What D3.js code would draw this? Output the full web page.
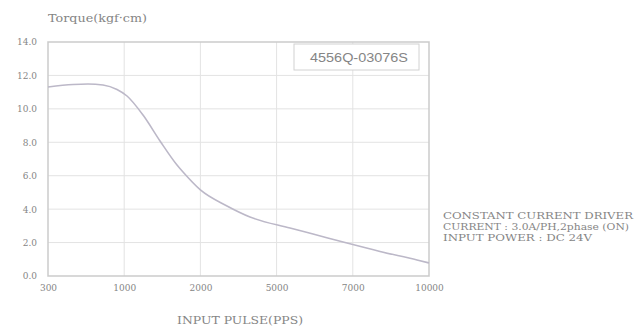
<!DOCTYPE html>
<html>
<head>
<meta charset="utf-8">
<script src="https://cdn.jsdelivr.net/npm/d3@7"></script>
<style>
  html, body { margin: 0; padding: 0; background: #fff; }
  svg { display: block; }
  text { font-family: "DejaVu Serif", "Liberation Serif", serif; fill: #858585; }
</style>
</head>
<body>
<svg id="chart" width="640" height="330"></svg>
<script>
// Pull-out torque curve of the stepper motor
const pulseTicks = [300, 1000, 2000, 5000, 7000, 10000];
const torqueTicks = [0, 2, 4, 6, 8, 10, 12, 14];
const pulse  = [300, 530, 667, 805, 934, 1037, 1247, 1470, 1693, 1772, 2000, 3047, 3953, 5352, 5956, 6848, 8071, 9529, 10000];
const torque = [11.31, 11.46, 11.49, 11.43, 11.16, 10.77, 9.63, 8.08, 6.64, 6.22, 5.15, 4.19, 3.53, 2.87, 2.51, 1.97, 1.47, 0.96, 0.78];
const modelName = "4556Q-03076S";
const notes = ["CONSTANT CURRENT DRIVER", "CURRENT : 3.0A/PH,2phase (ON)", "INPUT POWER : DC 24V"];

const svg = d3.select("#chart");
const m = { left: 48, right: 429, top: 42, bottom: 276 };

// Pulse ticks are spaced evenly, so the x scale is piecewise linear between them
const x = d3.scaleLinear()
  .domain(pulseTicks)
  .range(pulseTicks.map((d, i) => m.left + i * (m.right - m.left) / (pulseTicks.length - 1)));
const y = d3.scaleLinear().domain([0, 14]).range([m.bottom, m.top]);

// grid
const grid = svg.append("g");
grid.selectAll("line.h").data(torqueTicks.filter(d => d > 0 && d < 14)).join("line")
  .attr("x1", m.left).attr("x2", m.right)
  .attr("y1", d => y(d)).attr("y2", d => y(d))
  .attr("stroke", "#e3e3e3").attr("stroke-width", 1);
grid.selectAll("line.v").data(pulseTicks.slice(1, -1)).join("line")
  .attr("x1", d => x(d)).attr("x2", d => x(d))
  .attr("y1", m.top).attr("y2", m.bottom)
  .attr("stroke", "#e3e3e3").attr("stroke-width", 1);

// frame
svg.append("rect")
  .attr("x", m.left).attr("y", m.top)
  .attr("width", m.right - m.left).attr("height", m.bottom - m.top)
  .attr("fill", "none").attr("stroke", "#cbcbcb").attr("stroke-width", 1.5);

// y axis labels
const yAxis = d3.axisLeft(y).tickValues(torqueTicks).tickFormat(d3.format(".1f")).tickSize(0).tickPadding(11);
svg.append("g").attr("transform", `translate(${m.left},0)`).call(yAxis)
  .call(g => g.select(".domain").remove())
  .call(g => g.selectAll("text").style("font-family", "DejaVu Serif").style("font-size", "9px").attr("fill", "#858585"));

// x axis labels
const xAxis = d3.axisBottom(x).tickValues(pulseTicks).tickFormat(d => d).tickSize(0).tickPadding(9);
svg.append("g").attr("transform", `translate(0,${m.bottom})`).call(xAxis)
  .call(g => g.select(".domain").remove())
  .call(g => g.selectAll("text").style("font-family", "DejaVu Serif").style("font-size", "9px").attr("fill", "#858585"));

// torque curve
const line = d3.line().x((d, i) => x(pulse[i])).y(d => y(d)).curve(d3.curveMonotoneX);
svg.append("path").datum(torque)
  .attr("d", line)
  .attr("fill", "none").attr("stroke", "#bcb8c8").attr("stroke-width", 1.6);

// titles
svg.append("text").attr("x", 48).attr("y", 22).attr("font-size", 11)
  .attr("textLength", 99).attr("lengthAdjust", "spacingAndGlyphs").text("Torque(kgf·cm)");
svg.append("text").attr("x", 177).attr("y", 324).attr("font-size", 10.5)
  .attr("textLength", 126).attr("lengthAdjust", "spacingAndGlyphs").text("INPUT PULSE(PPS)");

// model box
svg.append("rect").attr("x", 294).attr("y", 44).attr("width", 125).attr("height", 26)
  .attr("fill", "#fff").attr("stroke", "#d2d2d2").attr("stroke-width", 1);
svg.append("text").attr("x", 310).attr("y", 62)
  .style("font-family", "Liberation Sans, Arial, sans-serif").attr("font-size", 13).attr("fill", "#7d7d7d")
  .attr("textLength", 98).attr("lengthAdjust", "spacingAndGlyphs")
  .text(modelName);

// driver notes
const noteWidths = [190, 186, 149];
svg.append("g").selectAll("text").data(notes).join("text")
  .attr("x", 443).attr("y", (d, i) => 219 + i * 11)
  .attr("font-size", 9.5).attr("fill", "#757575")
  .attr("textLength", (d, i) => noteWidths[i]).attr("lengthAdjust", "spacingAndGlyphs")
  .text(d => d);
</script>
</body>
</html>
